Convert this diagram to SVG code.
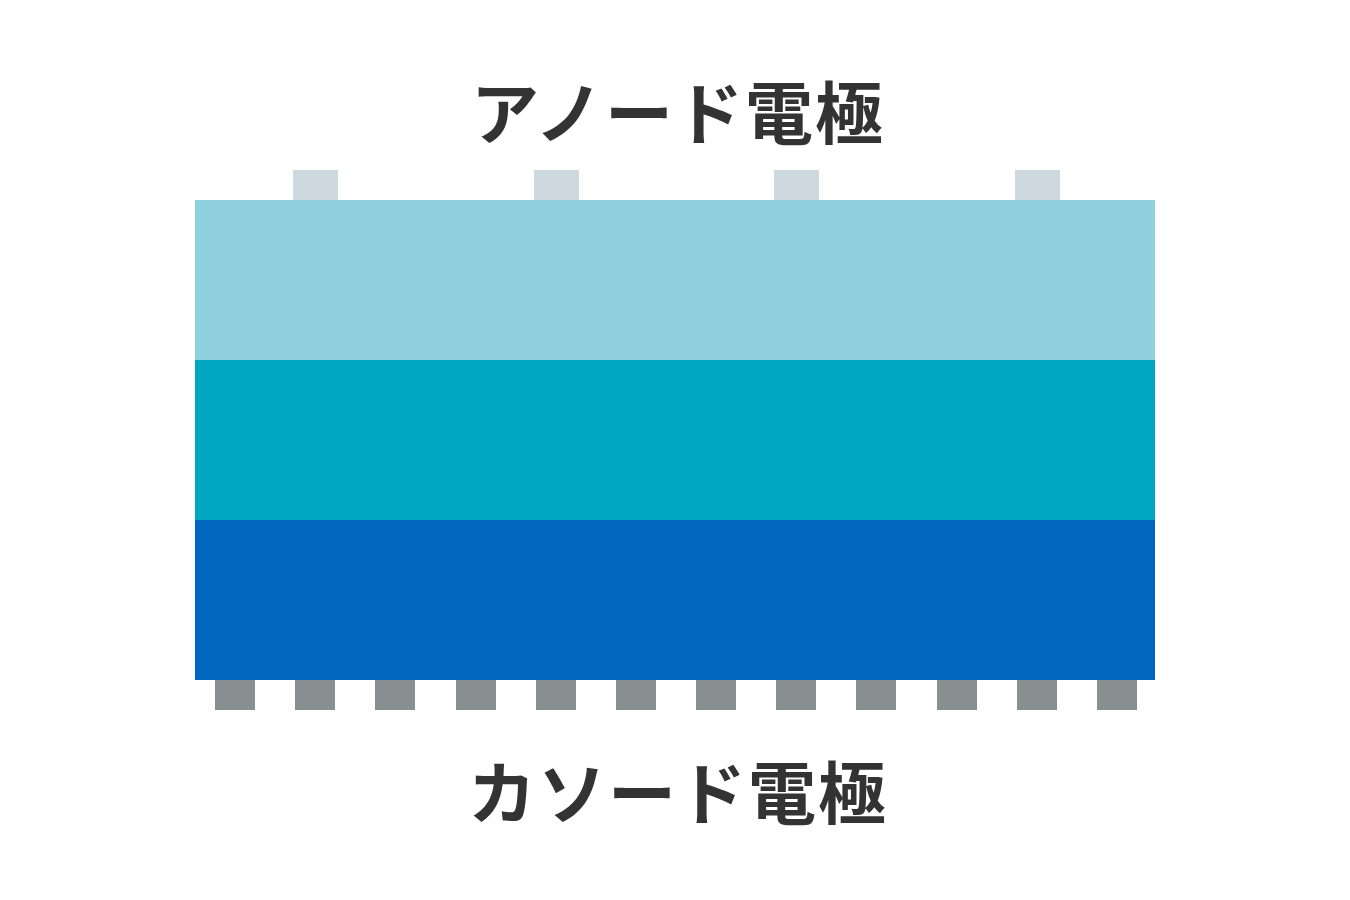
<svg xmlns="http://www.w3.org/2000/svg" width="1350" height="900" viewBox="0 0 1350 900">
<style>
.t{font-family:"Noto Sans CJK JP","Noto Sans",sans-serif;font-weight:700;font-size:68px;letter-spacing:2px;fill:#333333;text-anchor:middle}
.at{fill:#cdd9de}
.ct{fill:#878f90}
</style>
<rect width="1350" height="900" fill="#ffffff"/>
<g id="anode-label"><text class="t" x="678" y="139">アノード電極</text></g>
<g id="anode-tabs">
<rect class="at" x="293" y="170" width="45" height="30"/>
<rect class="at" x="534" y="170" width="45" height="30"/>
<rect class="at" x="774" y="170" width="45" height="30"/>
<rect class="at" x="1015" y="170" width="45" height="30"/>
</g>
<g id="layers">
<rect x="195" y="200" width="960" height="160" fill="#8fd0de"/>
<rect x="195" y="360" width="960" height="160" fill="#00a7c2"/>
<rect x="195" y="520" width="960" height="160" fill="#0066c0"/>
</g>
<g id="cathode-tabs">
<rect class="ct" x="215" y="680" width="40" height="30"/>
<rect class="ct" x="295" y="680" width="40" height="30"/>
<rect class="ct" x="375" y="680" width="40" height="30"/>
<rect class="ct" x="456" y="680" width="40" height="30"/>
<rect class="ct" x="536" y="680" width="40" height="30"/>
<rect class="ct" x="616" y="680" width="40" height="30"/>
<rect class="ct" x="696" y="680" width="40" height="30"/>
<rect class="ct" x="776" y="680" width="40" height="30"/>
<rect class="ct" x="856" y="680" width="40" height="30"/>
<rect class="ct" x="937" y="680" width="40" height="30"/>
<rect class="ct" x="1017" y="680" width="40" height="30"/>
<rect class="ct" x="1097" y="680" width="40" height="30"/>
</g>
<g id="cathode-label"><text class="t" x="678" y="819">カソード電極</text></g>
<g id="connectors"></g>
</svg>
